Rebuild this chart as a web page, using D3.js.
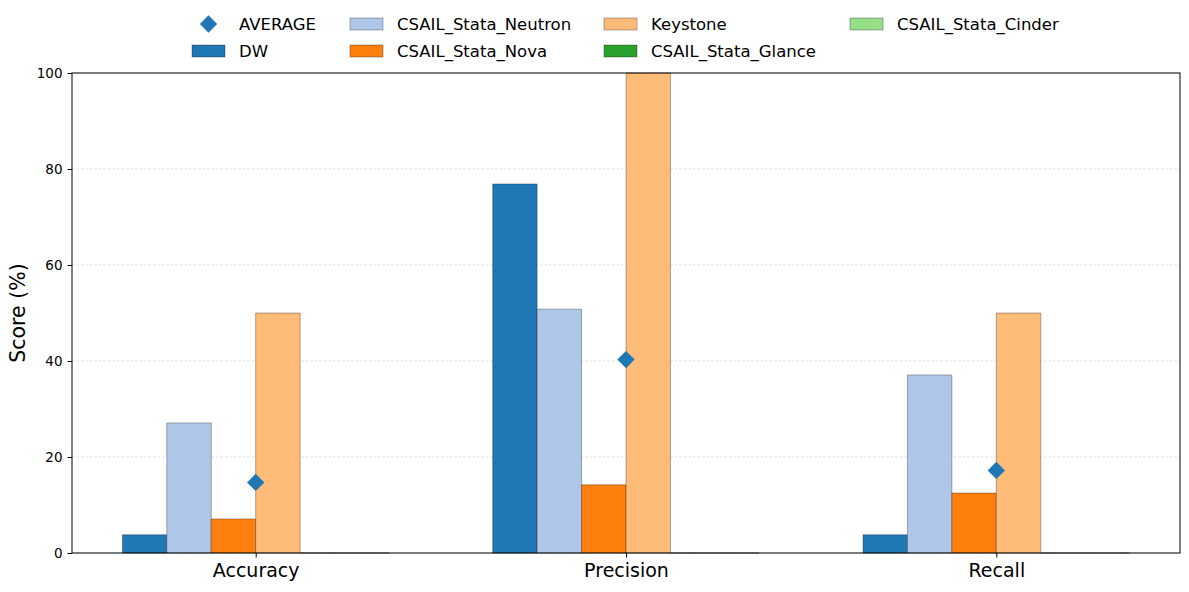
<!DOCTYPE html>
<html>
<head>
<meta charset="utf-8">
<script src="https://cdn.jsdelivr.net/npm/d3@7"></script>
<style>
  body { margin: 0; background: #fff; }
  svg text { font-family: "DejaVu Sans", sans-serif; }
</style>
</head>
<body>
<svg id="chart" width="1189" height="592"></svg>
<script>
var metrics = ['Accuracy', 'Precision', 'Recall'];
var systems = ['DW', 'CSAIL_Stata_Neutron', 'CSAIL_Stata_Nova', 'Keystone', 'CSAIL_Stata_Glance', 'CSAIL_Stata_Cinder'];
var colors = ['#1f77b4', '#aec7e8', '#ff7f0e', '#ffbb78', '#2ca02c', '#98df8a'];
var dwScores = [3.8, 76.9, 3.8];
var neutronScores = [27.1, 50.8, 37.1];
var novaScores = [7.1, 14.2, 12.5];
var keystoneScores = [50, 100, 50];
var glanceScores = [0, 0, 0];
var cinderScores = [0, 0, 0];
var averageScores = [14.7, 40.3, 17.2];
var yTicks = [0, 20, 40, 60, 80, 100];

var series = [dwScores, neutronScores, novaScores, keystoneScores, glanceScores, cinderScores];

var svg = d3.select("#chart");
var margin = {top: 73, left: 72, bottom: 39, right: 9};
var W = 1189, H = 592;
var barW = 0.12;

// matplotlib-style x: groups at 0,1,2 with 5% margins
var x = d3.scaleLinear()
    .domain([-0.36 - 0.136, 2.36 + 0.136])
    .range([margin.left, W - margin.right]);
var y = d3.scaleLinear()
    .domain([0, 100])
    .range([H - margin.bottom, margin.top]);

// grid
svg.append("g")
    .selectAll("line")
    .data(yTicks)
    .join("line")
    .attr("x1", x.range()[0]).attr("x2", x.range()[1])
    .attr("y1", d => y(d)).attr("y2", d => y(d))
    .attr("stroke", "#b0b0b0")
    .attr("stroke-opacity", 0.6)
    .attr("stroke-width", 0.7)
    .attr("stroke-dasharray", "2.5,2");

// bars
series.forEach(function(vals, si) {
    svg.append("g")
        .selectAll("path")
        .data(vals)
        .join("path")
        .attr("d", function(d, i) {
            var x0 = x(i - 0.36 + si * barW), x1 = x(i - 0.36 + (si + 1) * barW);
            var y0 = y(0), y1 = y(d);
            return "M" + x0 + "," + y0 + "H" + x1 + "V" + y1 + "H" + x0 + "Z";
        })
        .attr("fill", colors[si])
        .attr("stroke", "rgba(0,0,0,0.3)")
        .attr("stroke-width", 1);
});

// average diamonds
var diamond = d3.symbol().type(d3.symbolSquare).size(150);
svg.append("g")
    .selectAll("path")
    .data(averageScores)
    .join("path")
    .attr("d", diamond)
    .attr("fill", "#1f77b4")
    .attr("transform", (d, i) => `translate(${x(i)},${y(d)}) rotate(45)`);

// frame
svg.append("rect")
    .attr("x", x.range()[0]).attr("y", y(100))
    .attr("width", x.range()[1] - x.range()[0])
    .attr("height", y(0) - y(100))
    .attr("fill", "none").attr("stroke", "#000").attr("stroke-width", 1);

// y axis
var yAxis = svg.append("g")
    .attr("transform", `translate(${margin.left},0)`)
    .call(d3.axisLeft(y).tickValues(yTicks).tickSize(4.5).tickPadding(5));
yAxis.select(".domain").remove();
yAxis.attr("font-family", null);
yAxis.selectAll("text").style("font-size", "13.5px").attr("fill", "#000");
yAxis.selectAll("line").attr("stroke", "#000");

// x axis
var xAxis = svg.append("g")
    .attr("transform", `translate(0,${y(0)})`)
    .call(d3.axisBottom(x).tickValues([0, 1, 2]).tickFormat((d, i) => metrics[i]).tickSize(4.5).tickPadding(6));
xAxis.select(".domain").remove();
xAxis.attr("font-family", null);
xAxis.selectAll("text").style("font-size", "19px").attr("fill", "#000");
xAxis.selectAll("line").attr("stroke", "#000");

svg.append("text")
    .attr("transform", `translate(25,${(y(0) + y(100)) / 2}) rotate(-90)`)
    .attr("text-anchor", "middle")
    .style("font-size", "20.5px")
    .text("Score (%)");

// legend, 4 columns filled column-wise
var legendItems = [{name: 'AVERAGE', marker: true}].concat(systems.map((s, i) => ({name: s, color: colors[i]})));
var colX = [192, 350, 604, 850];
var rowY = [24, 51];
var legend = svg.append("g");
legendItems.forEach(function(item, k) {
    var c = Math.floor(k / 2), r = k % 2;
    var g = legend.append("g").attr("transform", `translate(${colX[c]},${rowY[r]})`);
    if (item.marker) {
        g.append("path").attr("d", diamond).attr("fill", "#1f77b4")
            .attr("transform", "translate(16.5,0) rotate(45)");
    } else {
        g.append("rect").attr("x", 0).attr("y", -6).attr("width", 33).attr("height", 12)
            .attr("fill", item.color).attr("stroke", "rgba(0,0,0,0.3)").attr("stroke-width", 1);
    }
    g.append("text").attr("x", 47).attr("y", 0).attr("dy", "0.35em")
        .style("font-size", "16.5px").text(item.name);
});
</script>
</body>
</html>
